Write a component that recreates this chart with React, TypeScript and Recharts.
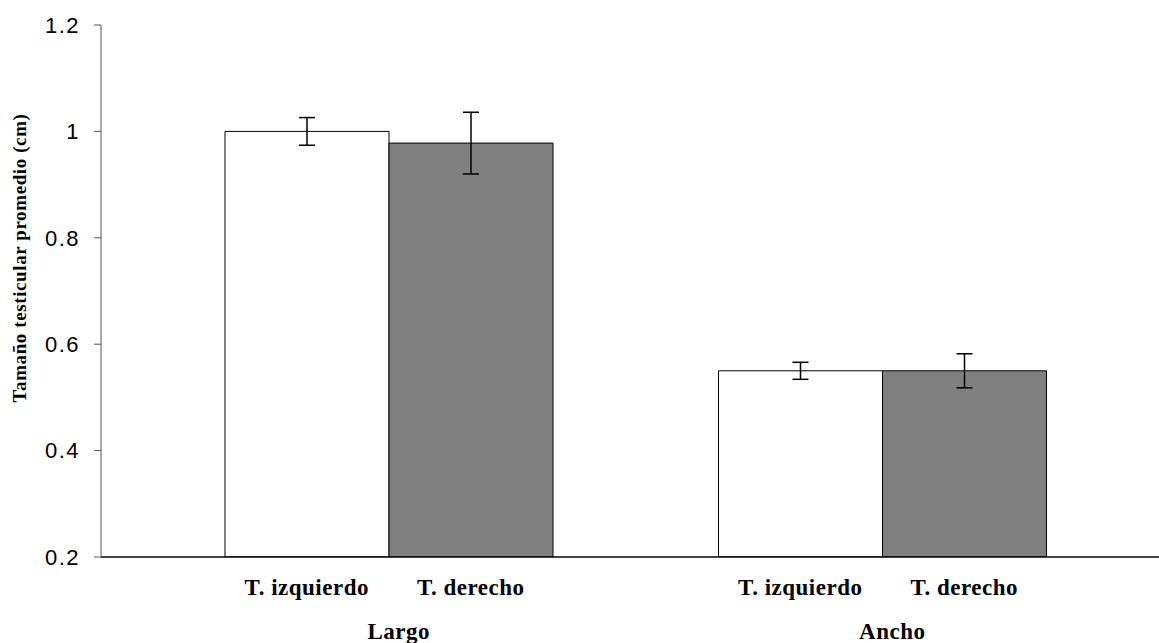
import { BarChart, Bar, XAxis, YAxis, ErrorBar } from 'recharts';

// medidas testiculares promedio (cm) por dimensión
const GRUPOS = ['Largo', 'Ancho'];
const SERIES = ['T. izquierdo', 'T. derecho'];
const IZQUIERDO = [1.0, 0.55];
const DERECHO = [0.978, 0.55];
const ERR_IZQUIERDO = [0.026, 0.016];
const ERR_DERECHO = [0.058, 0.032];
const Y_TICKS = [0.2, 0.4, 0.6, 0.8, 1, 1.2];

const data = GRUPOS.map((g, i) => ({
  grupo: g,
  izq: IZQUIERDO[i],
  der: DERECHO[i],
  errIzq: ERR_IZQUIERDO[i],
  errDer: ERR_DERECHO[i],
}));

const BAR_SIZE = 164;
const SERIF = '"Liberation Serif", "Times New Roman", serif';
const SANS = '"Liberation Sans", Arial, sans-serif';

function GroupTick(props: any) {
  const { x, y, payload } = props;
  const txt = {
    fontFamily: SERIF,
    fontWeight: 'bold',
    fontSize: 23,
    letterSpacing: 0.5,
    fill: '#000',
    textAnchor: 'middle' as const,
  };
  return (
    <g>
      <text x={x - BAR_SIZE / 2} y={y + 36} {...txt}>{SERIES[0]}</text>
      <text x={x + BAR_SIZE / 2} y={y + 36} {...txt}>{SERIES[1]}</text>
      <text x={x + 10} y={y + 80} {...txt}>{payload.value}</text>
    </g>
  );
}

function YTitle(props: any) {
  const { viewBox } = props;
  const cy = viewBox.y + viewBox.height / 2 - 33;
  return (
    <text
      x={19}
      y={cy}
      transform={`rotate(-90, 19, ${cy})`}
      textAnchor="middle"
      dominantBaseline="central"
      fontFamily={SERIF}
      fontWeight="bold"
      fontSize={19}
      letterSpacing={0.6}
      fill="#000"
    >
      Tamaño testicular promedio (cm)
    </text>
  );
}

export default function App() {
  return (
    <div style={{ position: 'absolute', left: 0, top: 0, background: '#fff' }}>
      <BarChart
        width={1159}
        height={643}
        data={data}
        margin={{ top: 25, right: 0, left: 0, bottom: 0 }}
        barGap={0}
        barSize={BAR_SIZE}
      >
        <XAxis
          dataKey="grupo"
          height={86}
          padding={{ left: 41, right: 30 }}
          axisLine={{ stroke: '#000', strokeWidth: 1.5 }}
          tickLine={false}
          tickSize={0}
          tick={<GroupTick />}
          interval={0}
        />
        <YAxis
          width={101}
          domain={[0.2, 1.2]}
          ticks={Y_TICKS}
          allowDataOverflow
          axisLine={{ stroke: '#555' }}
          tickLine={{ stroke: '#555' }}
          tickSize={7}
          tickMargin={14}
          tick={{ fontFamily: SANS, fontSize: 22, letterSpacing: 1.5, fill: '#000' }}
          label={<YTitle />}
        />
        <Bar dataKey="izq" fill="#ffffff" stroke="#000" strokeWidth={1} isAnimationActive={false}>
          <ErrorBar dataKey="errIzq" width={8} stroke="#000" strokeWidth={1.5} />
        </Bar>
        <Bar dataKey="der" fill="#808080" stroke="#000" strokeWidth={1} isAnimationActive={false}>
          <ErrorBar dataKey="errDer" width={8} stroke="#000" strokeWidth={1.5} />
        </Bar>
      </BarChart>
    </div>
  );
}
